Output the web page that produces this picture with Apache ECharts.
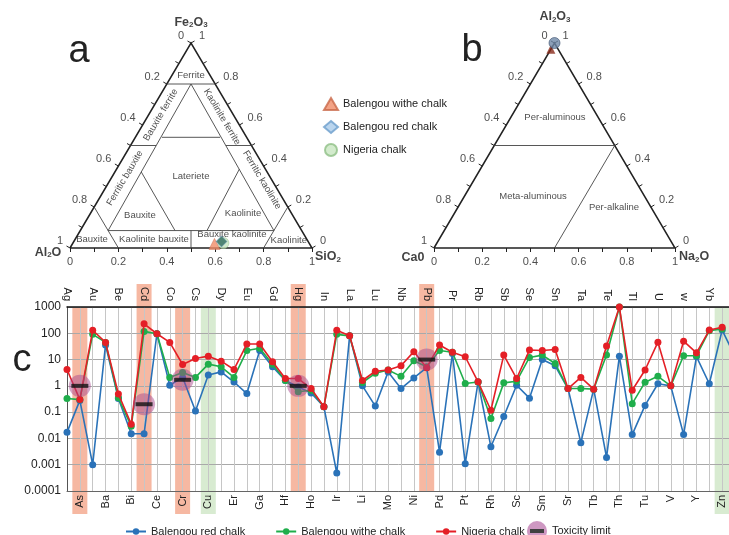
<!DOCTYPE html>
<html><head><meta charset="utf-8">
<script src="https://cdn.jsdelivr.net/npm/echarts@6/dist/echarts.min.js"></script>
<style>html,body{margin:0;padding:0;background:#fff}#c{width:729px;height:535px}</style>
</head><body><div id="c"></div>
<script>
// ---------------- line chart data ----------------
const categories = ['Ag','As','Au','Ba','Be','Bi','Cd','Ce','Co','Cr','Cs','Cu','Dy','Er','Eu','Ga','Gd','Hf','Hg','Ho','In','Ir','La','Li','Lu','Mo','Nb','Ni','Pb','Pd','Pr','Pt','Rb','Rh','Sb','Sc','Se','Sm','Sn','Sr','Ta','Tb','Te','Th','Tl','Tu','U','V','w','Y','Yb','Zn','Zr'];
const balengouRed = [0.017,0.28,0.001,36,0.33,0.015,0.015,96,1.06,2.1,0.11,2.6,3.4,1.4,0.51,22,5.3,1.6,0.9,0.54,0.16,0.00048,80,1.0,0.17,3.4,0.79,2.0,4.9,0.003,17,0.0011,1.4,0.0048,0.068,1.06,0.34,10,5.8,0.79,0.0069,0.75,0.0019,13.5,0.014,0.18,1.2,1.0,0.014,13,1.2,133,13];
const balengouWithe = [0.33,0.3,91,45,0.35,0.029,118,96,2.1,3.2,2.1,6.7,5.3,2.1,22,27,6.7,1.6,0.6,0.68,0.16,91,80,1.34,3.0,4.0,2.3,9,5.3,22,19,1.23,1.4,0.057,1.3,1.5,12,14.8,7.1,0.79,0.79,0.75,15,1000,0.21,1.38,2.3,1.0,14,14,126,145,null];
const nigeria = [4.2,0.3,130,45,0.49,0.035,230,96,45,6.5,11,13.5,8.7,4.2,39,39,8.2,1.9,1.9,0.79,0.16,130,81,1.6,3.6,4.0,5.8,20,4.9,36,19,12.8,1.42,0.118,14.8,1.9,23,22,24,0.79,2.1,0.75,33,1000,0.68,4,46,1.0,50,18,133,170,null];
const toxCats = ['As','Cd','Cr','Hg','Pb'];
const toxVals = [1,0.2,1.7,1,10];
const redBands = ['As','Cd','Cr','Hg','Pb'];
const greenBands = ['Cu','Zn'];
const yTickLabels = ['0.0001','0.001','0.01','0.1','1','10','100','1000'];

// ---------------- ternary data ([bottom-axis, apex] fractions) ----------------
const tickValues = [0,0.1,0.2,0.3,0.4,0.5,0.6,0.7,0.8,0.9,1];
const tickLabelValues = [0,0.2,0.4,0.6,0.8,1];
const tickLabels = ['0','0.2','0.4','0.6','0.8','1'];
const aWithe = [[0.587,0.02]];
const aRed = [[0.61,0.032]];
const aNigeria = [[0.622,0.024]];
const bWithe = [[0.0,0.97]];
const bRed = [[0.0,1.0]];
const regionLinesA = [
  [[0,0.8],[0.2,0.8]],
  [[0.1,0.8],[0.115,0.085]],
  [[0.1,0.8],[0.8,0.085]],
  [[0.11,0.54],[0.35,0.54]],
  [[0,0.5],[0.106,0.5]],
  [[0.394,0.5],[0.5,0.5]],
  [[0.109,0.371],[0.3915,0.085]],
  [[0.5235,0.085],[0.5075,0.385]],
  [[0.115,0.085],[0.8,0.085]],
  [[0.5,0],[0.4575,0.085]],
  [[0.2,0],[0,0.2]],
  [[0.8,0],[0.8,0.2]]
];
const regionLinesB = [
  [[0,0.5],[0.5,0.5]],
  [[0.5,0],[0.5,0.5]]
];
// region names: [text, x, y] in triangle plot units, rotation
const regionLabelsA = [
  ['Ferrite',0.5,0.844,0],['Bauxite ferrite',0.375,0.649,59.4],['Kaolinite ferrite',0.628,0.639,-59.4],
  ['Ferritic bauxite',0.227,0.341,59.4],['Ferritic kaolinite',0.793,0.332,-59.4],['Lateriete',0.5,0.351,0],
  ['Bauxite',0.289,0.161,0],['Kaolinite',0.715,0.171,0],['Bauxite',0.091,0.044,0],
  ['Kaolinite bauxite',0.347,0.044,0],['Bauxite kaolinite',0.669,0.068,0],['Kaolinite',0.904,0.039,0]
];
const regionLabelsB = [['Per-aluminous',0.502,0.639,0],['Meta-aluminous',0.411,0.25,0],['Per-alkaline',0.747,0.197,0]];
const titlesA = [['{m|Fe}{s|2}{m|O}{s|3}',0.5,1.102],['{m|Al}{s|2}{m|O}',-0.091,-0.02],['{m|SiO}{s|2}',1.066,-0.044]];
const titlesB = [['{m|Al}{s|2}{m|O}{s|3}',0.502,1.127],['{m|Ca0}',-0.087,-0.049],['{m|Na}{s|2}{m|O}',1.079,-0.044]];

const BLUE='#2a72b8', GREEN='#1fae4b', RED='#e41f26';
const FONT='Liberation Sans, Arial, sans-serif';
const tern = p => [p[0] + p[1]/2, p[1]];
const GW = 242, GH = 205;

function textSeries(gi, items, style){
  return {type:'scatter', xAxisIndex:gi, yAxisIndex:gi, symbolSize:1, clip:false, silent:true,
    itemStyle:{color:'rgba(0,0,0,0)'}, data:items, z:4,
    label:Object.assign({show:true, position:'inside', formatter:p=>p.data.t, fontFamily:FONT}, style)};
}
function ternGrid(gi){
  const edge = {type:'lines', coordinateSystem:'cartesian2d', xAxisIndex:gi, yAxisIndex:gi, polyline:true, clip:false, silent:true,
    data:[{coords:[[0,0],[1,0],[0.5,1],[0,0]]}], lineStyle:{color:'#222', width:1.5, opacity:1}, z:3};
  const segs=[];
  tickValues.forEach(v=>{
    segs.push({coords:[[v/2,v],[v/2-3.5/GW, v+2/GH]]});
    segs.push({coords:[[1-v/2,v],[1-v/2+3.5/GW, v+2/GH]]});
    segs.push({coords:[[v,0],[v,-4/GH]]});
  });
  const ticks = {type:'lines', coordinateSystem:'cartesian2d', xAxisIndex:gi, yAxisIndex:gi, clip:false, silent:true,
    data:segs, lineStyle:{color:'#222', width:1, opacity:1}, z:3};
  const lab = [];
  tickLabelValues.forEach((v,i)=>{
    const fL = 1 - v;
    lab.push({value:[fL/2, fL], t:tickLabels[i], label:{align:'right', offset:[-7,-7]}});
    lab.push({value:[1-v/2, v], t:tickLabels[i], label:{align:'left', offset:[8,-7]}});
    lab.push({value:[v,0], t:tickLabels[i], label:{align:'center', offset:[0,14]}});
  });
  return [edge, ticks, textSeries(gi, lab, {fontSize:11, color:'#222'})];
}
function regionText(gi, arr){
  return textSeries(gi, arr.map(r=>({value:[r[1],r[2]], t:r[0], label:{rotate:r[3]}})), {fontSize:9.5, color:'#222'});
}
const titleRich = {m:{fontSize:12.5, fontWeight:'bold', color:'#111', lineHeight:13, verticalAlign:'top', padding:[0,0,3,0], fontFamily:FONT},
                   s:{fontSize:8, fontWeight:'bold', color:'#111', lineHeight:8, verticalAlign:'bottom', fontFamily:FONT}};
function titleText(gi, arr){
  return textSeries(gi, arr.map(r=>({value:[r[1],r[2]], t:r[0]})), {rich:titleRich});
}
function lineSet(gi, arr){
  return {type:'lines', coordinateSystem:'cartesian2d', xAxisIndex:gi, yAxisIndex:gi, polyline:true, clip:false, silent:true,
    data:arr.map(l=>({coords:l.map(tern)})), lineStyle:{color:'#444', width:0.9, opacity:1}, z:3};
}
const SUF=' (ternary)';
const svgIcon = 'image://data:image/svg+xml;utf8,' + encodeURIComponent('<svg xmlns="http://www.w3.org/2000/svg" width="20" height="20"><circle cx="10" cy="10" r="10" fill="#c27fb4"/><rect x="3" y="8" width="14" height="4" fill="#111"/></svg>');

const series = [
  ...ternGrid(0), lineSet(0, regionLinesA), regionText(0, regionLabelsA), titleText(0, titlesA),
  {name:'Balengou withe chalk'+SUF, type:'scatter', xAxisIndex:0, yAxisIndex:0, symbol:'triangle', symbolSize:11, data:aWithe.map(tern), itemStyle:{color:'#f08c68', borderColor:'#c9694a', borderWidth:0.6}, z:5, clip:false},
  {name:'Balengou red chalk'+SUF, type:'scatter', xAxisIndex:0, yAxisIndex:0, symbol:'diamond', symbolSize:11, data:aRed.map(p=>({value:tern(p), itemStyle:{color:'#2f6b5e'}})), itemStyle:{color:'#a9cbea', borderColor:'#6c9dcc', borderWidth:0.6}, z:6, clip:false},
  {name:'Nigeria chalk'+SUF, type:'scatter', xAxisIndex:0, yAxisIndex:0, symbol:'circle', symbolSize:11, data:aNigeria.map(tern), itemStyle:{color:'#c8e6c0', borderColor:'#8fbf86', borderWidth:0.6}, z:5, clip:false},
  ...ternGrid(1), lineSet(1, regionLinesB), regionText(1, regionLabelsB), titleText(1, titlesB),
  {name:'b withe', type:'scatter', xAxisIndex:1, yAxisIndex:1, symbol:'triangle', symbolSize:9, data:bWithe.map(tern), itemStyle:{color:'#8a2a1a'}, z:5, clip:false},
  {name:'b red', type:'scatter', xAxisIndex:1, yAxisIndex:1, symbol:'circle', symbolSize:11, data:bRed.map(tern), itemStyle:{color:'#6f88a8', borderColor:'#3d5270', borderWidth:0.8}, z:6, clip:false},
  {name:'Balengou red chalk', type:'line', xAxisIndex:2, yAxisIndex:2, data:balengouRed, symbol:'circle', symbolSize:7, lineStyle:{color:BLUE, width:1.6}, itemStyle:{color:BLUE}, z:5},
  {name:'Balengou withe chalk', type:'line', xAxisIndex:2, yAxisIndex:2, data:balengouWithe, symbol:'circle', symbolSize:7, lineStyle:{color:GREEN, width:1.6}, itemStyle:{color:GREEN}, z:6},
  {name:'Nigeria chalk', type:'line', xAxisIndex:2, yAxisIndex:2, data:nigeria, symbol:'circle', symbolSize:7, lineStyle:{color:RED, width:1.6}, itemStyle:{color:RED}, z:7},
  {name:'Toxicity limit', type:'scatter', xAxisIndex:2, yAxisIndex:2, data:toxCats.map((c,i)=>[c,toxVals[i]]), symbol:'circle', symbolSize:22, itemStyle:{color:'rgba(168,70,140,0.6)'}, z:8},
  {name:'Toxicity bar', type:'scatter', xAxisIndex:2, yAxisIndex:2, data:toxCats.map((c,i)=>[c,toxVals[i]]), symbol:'rect', symbolSize:[17,4], itemStyle:{color:'#111'}, z:9}
];

const hiddenVal = (gi, min, max) => ({type:'value', gridIndex:gi, min, max, show:false, splitLine:{show:false}});
const option = {
  animation:false,
  backgroundColor:'#fff',
  textStyle:{fontFamily:FONT},
  grid:[
    {left:70, top:43, width:GW, height:GH, outerBoundsMode:'none', containLabel:false},
    {left:434, top:43, width:241, height:GH, outerBoundsMode:'none', containLabel:false},
    {left:67, top:307, width:668, height:184, outerBoundsMode:'none', containLabel:false}
  ],
  xAxis:[
    hiddenVal(0,0,1), hiddenVal(1,0,1),
    {type:'category', gridIndex:2, data:categories, position:'bottom', boundaryGap:false,
     axisLine:{lineStyle:{color:'#666', width:1}}, axisTick:{show:false},
     axisLabel:{interval:0, rotate:90, fontSize:11, color:'#222', margin:4, formatter:(v,i)=> i%2===1 ? v : ''},
     splitLine:{show:true, interval:0, lineStyle:{color:'#c6c6c6', width:1}}},
    {type:'category', gridIndex:2, data:categories, position:'top', boundaryGap:false,
     axisLine:{lineStyle:{color:'#111', width:1.5}}, axisTick:{show:false},
     axisLabel:{interval:0, rotate:90, fontSize:11, color:'#222', margin:6, formatter:(v,i)=> i%2===0 ? v : ''},
     splitLine:{show:false}}
  ],
  yAxis:[
    hiddenVal(0,0,1), hiddenVal(1,0,1),
    {type:'log', gridIndex:2, logBase:10, min:0.0001, max:1000,
     axisLine:{show:true, lineStyle:{color:'#555'}}, axisTick:{show:false},
     axisLabel:{fontSize:12, color:'#222', margin:6, formatter:v=>yTickLabels[Math.round(Math.log10(v))+4]},
     splitLine:{lineStyle:{color:'#a9a9a9', width:1}}}
  ],
  legend:[
    {data:['Balengou withe chalk'+SUF,'Balengou red chalk'+SUF,'Nigeria chalk'+SUF], orient:'vertical', left:318, top:92, itemGap:9,
     itemWidth:14, itemHeight:12, selectedMode:false, formatter:n=>n.replace(SUF,''), textStyle:{fontSize:11, color:'#222', fontFamily:FONT}},
    {data:['Balengou red chalk','Balengou withe chalk','Nigeria chalk'], left:120, top:521, itemGap:30, itemWidth:20, itemHeight:8,
     selectedMode:false, textStyle:{fontSize:11, color:'#222', fontFamily:FONT}},
    {data:[{name:'Toxicity limit', icon:svgIcon}], left:522, top:516, itemWidth:20, itemHeight:20, selectedMode:false,
     textStyle:{fontSize:11, color:'#222', fontFamily:FONT}}
  ],
  series
};
const chart = echarts.init(document.getElementById('c'), null, {renderer:'canvas'});
chart.setOption(option);

const yTop = chart.convertToPixel({yAxisIndex:2}, 1000);
const yBot = chart.convertToPixel({yAxisIndex:2}, 0.0001);
const graphics = [];
function band(c, color){
  const idx = categories.indexOf(c);
  const x = chart.convertToPixel({xAxisIndex:2}, c);
  const top = idx%2===0 ? yTop-23 : yTop;
  const bot = idx%2===0 ? yBot : yBot+23;
  graphics.push({type:'rect', z:-1, silent:true, shape:{x:x-7.5, y:top, width:15, height:bot-top}, style:{fill:color}});
}
redBands.forEach(c=>band(c,'#f6b8a2'));
greenBands.forEach(c=>band(c,'#d8ebd1'));
[['a',79,52],['b',472,51],['c',22,361]].forEach(l=>{
  graphics.push({type:'text', x:l[1], y:l[2], style:{text:l[0], fontSize:38, fontFamily:FONT, fill:'#222', align:'center', verticalAlign:'middle'}});
});
chart.setOption({graphic:graphics});
</script></body></html>
